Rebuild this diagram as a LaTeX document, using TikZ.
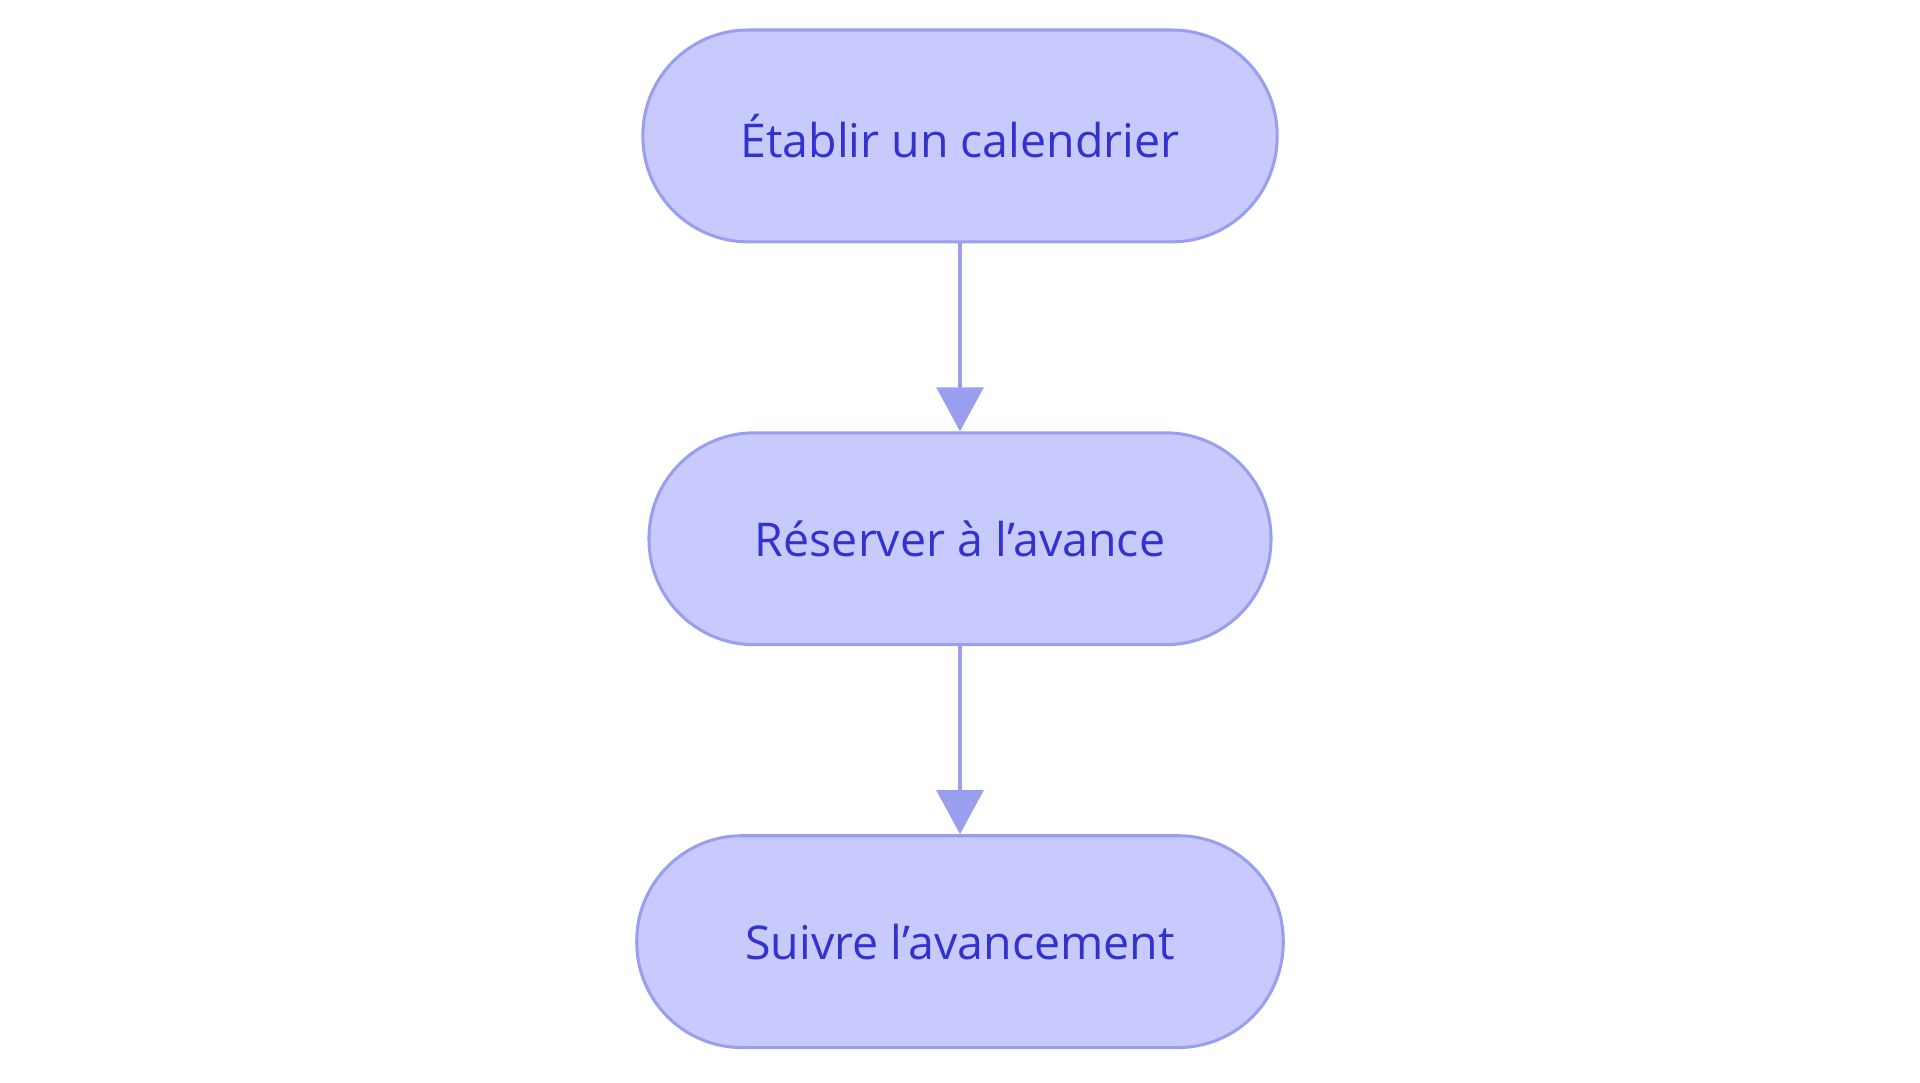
\documentclass[tikz,border=0pt]{standalone}
\usepackage{fontspec}
\setmainfont{Open Sans}
\usetikzlibrary{positioning,arrows.meta}
\definecolor{stepfill}{HTML}{C8CAFE}
\definecolor{stepline}{HTML}{9A9EEE}
\definecolor{steptext}{HTML}{3232CF}
\tikzset{
  stepbox/.style={draw=stepline, line width=2.5pt, fill=stepfill, text=steptext,
    rounded corners=86pt, minimum height=173pt, inner xsep=0pt,
    font=\fontsize{38}{44}\selectfont},
  flow/.style={draw=stepline, line width=4pt, -{Triangle[length=36pt,width=38pt]}}
}
\begin{document}
\begin{tikzpicture}[x=1pt,y=1pt]
  \useasboundingbox (0,0) rectangle (1568,-884);
  \node [stepbox, minimum width=518pt] (plan) at (784,-111) {Établir un calendrier};
  \node [stepbox, minimum width=508pt] (book) at (784,-440) {Réserver à l'avance};
  \node [stepbox, minimum width=528pt] (track) at (784,-769) {Suivre l'avancement};
  \draw [flow] (plan) -- (book);
  \draw [flow] (book) -- (track);
\end{tikzpicture}
\end{document}
